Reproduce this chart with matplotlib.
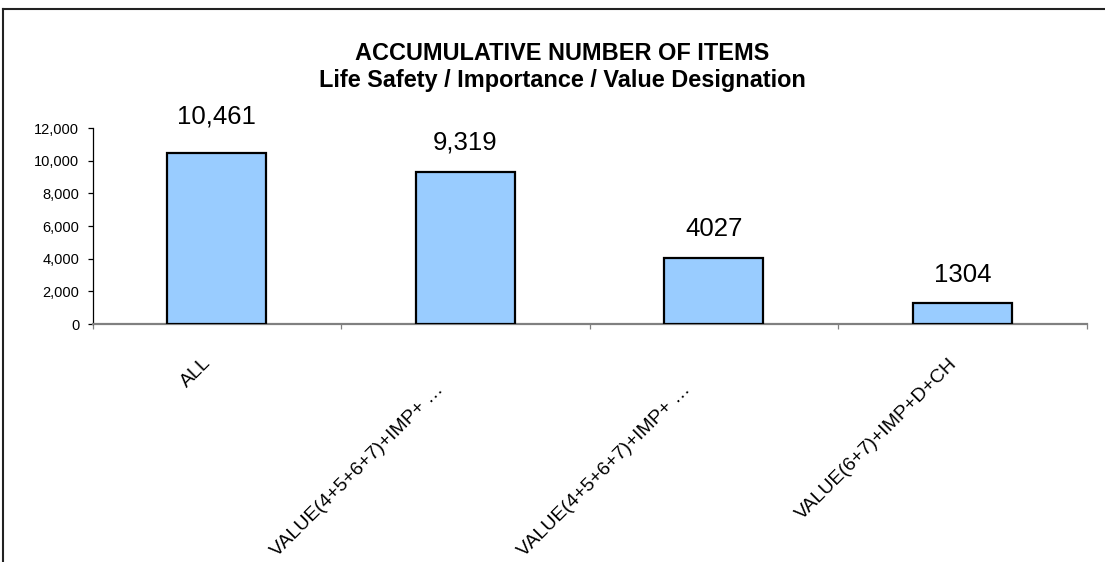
import matplotlib
matplotlib.use("Agg")
import matplotlib.pyplot as plt
from matplotlib.lines import Line2D
from matplotlib.ticker import FuncFormatter, FixedLocator
import matplotlib.transforms as mtransforms

plt.rcParams['font.family'] = ['Liberation Sans', 'DejaVu Sans']

# Chart data
categories = ["ALL", "VALUE(4+5+6+7)+IMP+ \u2026", "VALUE(4+5+6+7)+IMP+ \u2026", "VALUE(6+7)+IMP+D+CH"]
counts = [10461, 9319, 4027, 1304]
count_labels = ["10,461", "9,319", "4027", "1304"]
y_ticks = [0, 2000, 4000, 6000, 8000, 10000, 12000]
title_lines = ["ACCUMULATIVE NUMBER OF ITEMS", "Life Safety / Importance / Value Designation"]

W, H = 1105, 562
DPI = 100
fig = plt.figure(figsize=(W / DPI, H / DPI), dpi=DPI)

# plot area in pixels
left_px, right_px = 92.5, 1086.5
top_px, bottom_px = 128, 324
ax = fig.add_axes([left_px / W, 1 - bottom_px / H,
                   (right_px - left_px) / W, (bottom_px - top_px) / H])

x = list(range(len(categories)))
ax.bar(x, counts, width=0.4, color="#99CCFF", edgecolor="black", linewidth=1.6, zorder=3)
ax.set_xlim(-0.5, len(categories) - 0.5)
ax.set_ylim(0, 12000)

# spines
for s in ("top", "right"):
    ax.spines[s].set_visible(False)
ax.spines["left"].set_color("black")
ax.spines["left"].set_linewidth(0.9)
ax.spines["bottom"].set_color("#808080")
ax.spines["bottom"].set_linewidth(1.6)

# y axis
ax.yaxis.set_major_locator(FixedLocator(y_ticks))
ax.yaxis.set_major_formatter(FuncFormatter(lambda v, p: f"{int(v):,}"))
ax.tick_params(axis="y", direction="out", length=3.5, width=0.9, color="black",
               labelsize=10.5, pad=6)

# x axis: ticks at category boundaries, labels drawn separately
ax.set_xticks([i - 0.5 for i in range(len(categories) + 1)])
ax.set_xticklabels([])
ax.tick_params(axis="x", direction="out", length=3.5, width=0.9, color="#808080")

# rotated category labels (offsets in pixels from category centre on the axis)
label_offsets = [(-14, -30), (-30, -57), (-32, -57), (-14, -31)]
for i, (cat, (dx, dy)) in enumerate(zip(categories, label_offsets)):
    tr = ax.get_xaxis_transform() + mtransforms.ScaledTranslation(dx / DPI, dy / DPI, fig.dpi_scale_trans)
    ax.text(i, 0, cat, transform=tr, rotation=45, rotation_mode="anchor",
            ha="right", va="top", fontsize=14, color="black")

# value labels above the bars (pixel gap between label centre and bar top)
value_gaps = [37, 29.5, 29, 27.5]
for i, (v, lab, g) in enumerate(zip(counts, count_labels, value_gaps)):
    ax.annotate(lab, xy=(i, v), xytext=(0, g * 72 / DPI), textcoords="offset points",
                ha="center", va="center", fontsize=18.5, color="black")

# title
fig.text(562 / W, 1 - 54 / H, title_lines[0], ha="center", va="center",
         fontsize=16.9, fontweight="bold")
fig.text(562 / W, 1 - 80 / H, title_lines[1], ha="center", va="center",
         fontsize=16.9, fontweight="bold")

# frame lines along the top and left edge
fig.add_artist(Line2D([3 / W, 1], [1 - 8.5 / H, 1 - 8.5 / H], transform=fig.transFigure,
                      color="#222222", linewidth=1.5))
fig.add_artist(Line2D([3 / W, 3 / W], [0, 1 - 8.5 / H], transform=fig.transFigure,
                      color="#222222", linewidth=1.5))

fig.savefig("out.png", dpi=DPI, facecolor="white")
